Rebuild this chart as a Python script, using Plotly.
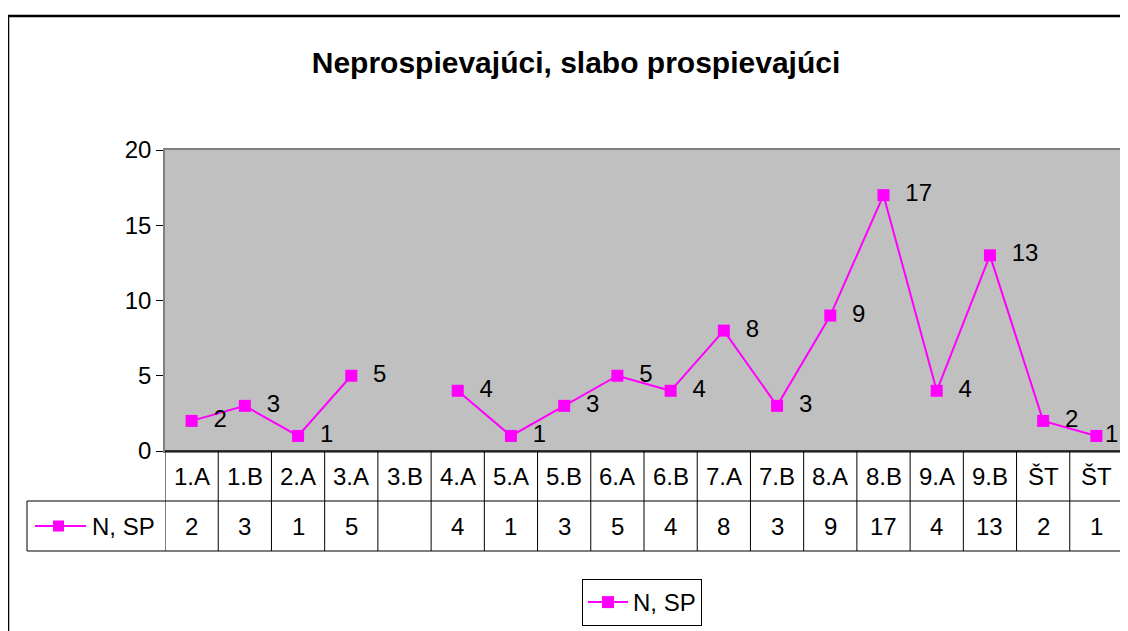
import plotly.graph_objects as go

categories = ["1.A", "1.B", "2.A", "3.A", "3.B", "4.A", "5.A", "5.B", "6.A",
              "6.B", "7.A", "7.B", "8.A", "8.B", "9.A", "9.B", "ŠT", "ŠT"]
values = [2, 3, 1, 5, None, 4, 1, 3, 5, 4, 8, 3, 9, 17, 4, 13, 2, 1]
series_name = "N, SP"
title_text = "Neprospievajúci, slabo prospievajúci"
y_ticks = [0, 5, 10, 15, 20]

FONT = "Liberation Sans, Arial, sans-serif"
FS = 24
MAG = "#FF00FF"
OFF = 8  # page body margin
W, H = 1120, 623
# target page-pixel positions of the plot area
PL, PR, PT, PB = 165, 1123, 150, 451
L, T = PL - OFF, PT - OFF
R, B = W - (PR - OFF), H - (PB - OFF)
PW, PH = PR - PL, PB - PT


def px_x(px):
    return (px - PL) / PW


def px_y(py):
    return (PB - py) / PH


xs = list(range(len(categories)))
n = len(categories)

labels = []
for i, v in enumerate(values):
    if v is None:
        labels.append("")
    elif i == n - 1:
        labels.append(str(v))  # last label sits at the right edge
    else:
        labels.append("  " + str(v))

fig = go.Figure()
fig.add_trace(go.Scatter(
    x=xs, y=values, mode="lines+markers+text", name=series_name,
    line=dict(color=MAG, width=2),
    marker=dict(symbol="square", size=12, color=MAG),
    text=labels,
    textposition="middle right",
    textfont=dict(family=FONT, size=FS, color="black"),
    cliponaxis=False, connectgaps=False,
))

shapes = []
# outer chart border
shapes.append(dict(type="rect", xref="paper", yref="paper",
                   x0=px_x(8), x1=px_x(1160), y0=px_y(16), y1=px_y(680),
                   line=dict(color="black", width=2.5), layer="below"))
row1_top, row1_bot, row2_bot = 451, 501, 551
shapes.append(dict(type="line", xref="x", yref="paper", x0=-0.5, x1=n - 0.5,
                   y0=px_y(row1_top), y1=px_y(row1_top), line=dict(color="black", width=1.5)))
for yy in (row1_bot, row2_bot):
    shapes.append(dict(type="line", xref="paper", yref="paper", x0=px_x(27), x1=1,
                       y0=px_y(yy), y1=px_y(yy), line=dict(color="black", width=1.2)))
for i in range(n + 1):
    shapes.append(dict(type="line", xref="x", yref="paper", x0=i - 0.5, x1=i - 0.5,
                       y0=px_y(row1_top), y1=px_y(row2_bot), line=dict(color="black", width=1)))
shapes.append(dict(type="line", xref="paper", yref="paper", x0=px_x(27), x1=px_x(27),
                   y0=px_y(row1_bot), y1=px_y(row2_bot), line=dict(color="black", width=1)))
# legend key inside table
ky = px_y((row1_bot + row2_bot) / 2)
shapes.append(dict(type="line", xref="paper", yref="paper", x0=px_x(35), x1=px_x(86),
                   y0=ky, y1=ky, line=dict(color=MAG, width=2)))
shapes.append(dict(type="rect", xref="paper", yref="paper", x0=px_x(53), x1=px_x(64),
                   y0=px_y(520.5), y1=px_y(531.5), line=dict(color=MAG, width=0), fillcolor=MAG))

annotations = []
for i, c in enumerate(categories):
    annotations.append(dict(x=i, y=px_y((row1_top + row1_bot) / 2), xref="x", yref="paper",
                            text=c, showarrow=False, xanchor="center", yanchor="middle",
                            font=dict(family=FONT, size=FS, color="black")))
    v = values[i]
    annotations.append(dict(x=i, y=ky, xref="x", yref="paper",
                            text="" if v is None else str(v), showarrow=False,
                            xanchor="center", yanchor="middle",
                            font=dict(family=FONT, size=FS, color="black")))
annotations.append(dict(x=px_x(90), y=ky, xref="paper", yref="paper", text=series_name,
                        showarrow=False, xanchor="left", yanchor="middle",
                        font=dict(family=FONT, size=FS, color="black")))

fig.update_layout(
    width=W, height=H, margin=dict(l=L, r=R, t=T, b=B, autoexpand=False),
    paper_bgcolor="white", plot_bgcolor="#C0C0C0",
    title=dict(text="<b>" + title_text + "</b>", x=(576 - OFF) / W, xref="container",
               xanchor="center", y=1 - (62 - OFF) / H, yref="container", yanchor="middle",
               font=dict(family=FONT, size=30, color="black")),
    xaxis=dict(range=[-0.5, n - 0.5], showticklabels=False, ticks="", showgrid=False,
               zeroline=False, showline=True, linecolor="#808080", linewidth=1.5, mirror=True),
    yaxis=dict(range=[0, 20], tickvals=y_ticks, ticks="outside", ticklen=7, tickcolor="black",
               showgrid=False, zeroline=False, showline=True, linecolor="#808080", linewidth=1.5,
               mirror=True, tickfont=dict(family=FONT, size=FS, color="black")),
    showlegend=True,
    legend=dict(x=px_x(642), y=px_y(579), xanchor="center", yanchor="top",
                bordercolor="black", borderwidth=1, bgcolor="white",
                font=dict(family=FONT, size=FS, color="black"), itemwidth=40),
    shapes=shapes, annotations=annotations,
)

fig.write_html("out.html")
